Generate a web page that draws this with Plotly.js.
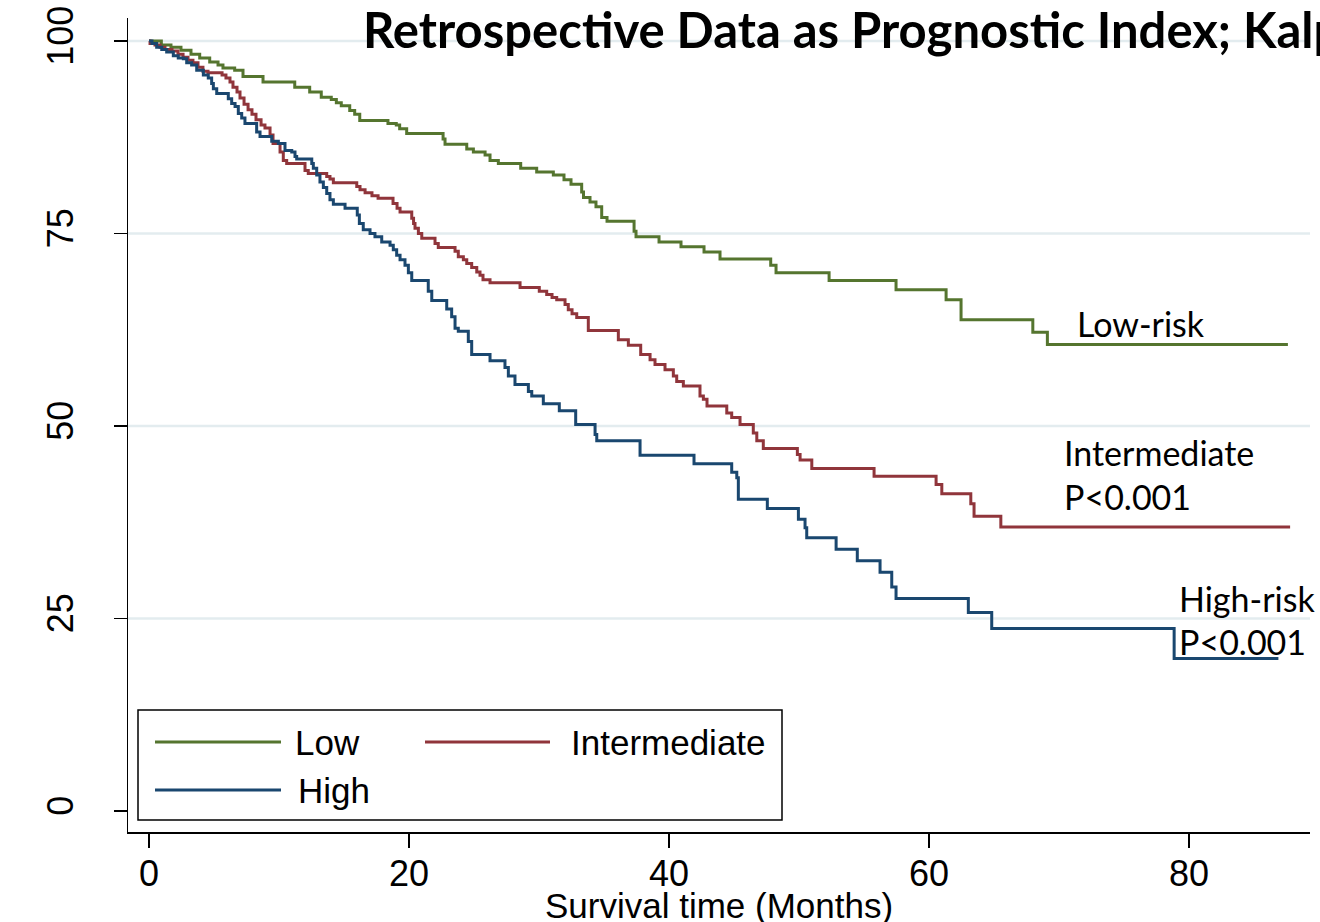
<!DOCTYPE html>
<html><head><meta charset="utf-8">
<script src="https://cdn.plot.ly/plotly-3.0.1.min.js"></script>
<style>html,body{margin:0;padding:0;background:#fff;overflow:hidden}#chart{width:1320px;height:922px}</style>
</head><body><div id="chart"></div>
<script>
// ---- Data (Kaplan-Meier step points: time in months, survival %) ----
const lowT = [0, 0.95, 1.69, 2.46, 3.23, 3.90, 4.67, 5.31, 5.69, 6.59, 7.23, 8.77, 11.21, 12.36, 13.25, 14.02, 14.41, 14.79, 15.44, 15.82, 16.21, 18.38, 19.02, 19.28, 19.82, 22.62, 22.77, 24.44, 24.95, 25.85, 26.23, 26.87, 28.59, 29.82, 31.10, 31.92, 32.46, 33.28, 33.42, 33.92, 34.38, 34.82, 35.23, 37.31, 37.46, 39.23, 40.92, 42.69, 43.92, 47.82, 48.23, 52.31, 57.46, 61.31, 62.46, 67.98, 69.10, 87.60];
const lowS = [100, 99.5, 99.2, 98.8, 98.3, 97.8, 97.3, 96.9, 96.5, 96.2, 95.4, 94.7, 94.0, 93.4, 92.7, 92.4, 92.0, 91.6, 91.0, 90.5, 89.7, 89.3, 89.1, 88.6, 88.0, 87.3, 86.6, 86.0, 85.6, 85.2, 84.5, 84.1, 83.5, 83.0, 82.6, 82.0, 81.4, 80.4, 79.7, 79.1, 78.5, 77.1, 76.6, 75.3, 74.6, 73.9, 73.3, 72.6, 71.7, 70.9, 69.9, 68.9, 67.7, 66.4, 63.8, 62.2, 60.6, 60.6];

const intT = [0, 0.08, 0.46, 0.85, 1.23, 1.77, 2.23, 2.62, 3.00, 3.38,
  3.77, 4.15, 4.54, 5.62, 5.92, 6.23, 6.46, 6.77, 7.00, 7.31,
  7.62, 7.92, 8.23, 8.62, 8.92, 9.31, 9.54, 10.08, 10.33, 10.59,
  12.00, 12.25, 13.67, 13.92, 14.18, 15.98, 16.23, 16.62, 17.15, 17.62,
  18.77, 19.08, 19.31, 20.21, 20.35, 20.46, 20.72, 20.98, 22.00, 22.25,
  23.54, 23.79, 24.18, 24.44, 24.82, 25.21, 25.46, 25.69, 26.23, 28.54,
  30.02, 30.59, 31.00, 31.36, 32.00, 32.25, 32.54, 32.90, 33.79, 36.10,
  36.87, 37.82, 38.54, 38.92, 39.69, 40.33, 40.59, 41.10, 42.38, 42.64,
  42.92, 44.44, 44.82, 45.46, 46.48, 46.75, 47.25, 49.87, 50.08, 50.98,
  55.77, 60.54, 60.98, 63.21, 63.46, 65.52, 87.77];
const intS = [100, 99.7, 99.5, 99.2, 98.9, 98.7, 98.3, 97.9, 97.5, 97.2,
  96.6, 96.1, 95.9, 95.6, 95.2, 94.7, 94.0, 93.4, 92.6, 91.8,
  91.1, 90.5, 89.8, 89.1, 88.7, 87.8, 86.7, 85.6, 84.5, 84.1,
  83.2, 82.8, 82.4, 82.1, 81.6, 81.1, 80.7, 80.3, 79.9, 79.6,
  78.9, 78.3, 77.8, 77.0, 76.3, 75.7, 75.0, 74.4, 73.7, 73.2,
  72.7, 72.0, 71.6, 71.1, 70.6, 70.0, 69.6, 69.0, 68.6, 68.0,
  67.5, 67.1, 66.7, 66.4, 65.8, 65.1, 64.6, 64.1, 62.4, 61.2,
  60.5, 59.3, 58.6, 58.0, 57.3, 56.5, 55.8, 55.2, 53.9, 53.5,
  52.6, 51.7, 51.1, 50.2, 49.1, 48.1, 47.1, 46.3, 45.6, 44.5,
  43.5, 42.4, 41.2, 39.9, 38.3, 36.9, 36.9];

const highT = [0, 0.23, 0.59, 0.98, 1.36, 1.87, 2.25, 2.64, 2.90, 3.28,
  3.67, 4.18, 4.56, 4.82, 4.95, 5.21, 6.10, 6.36, 6.62, 6.87,
  7.13, 7.38, 8.28, 8.54, 9.44, 9.95, 10.46, 10.98, 11.23, 11.36,
  12.52, 12.64, 12.90, 13.15, 13.41, 13.67, 13.92, 14.18, 15.08, 16.02,
  16.18, 16.48, 17.00, 17.38, 17.90, 18.54, 18.79, 19.05, 19.31, 19.69,
  19.95, 20.21, 21.48, 21.75, 22.90, 23.28, 23.54, 23.79, 24.56, 24.82,
  26.23, 27.38, 27.64, 28.15, 29.18, 29.44, 30.33, 31.56, 32.82, 34.31,
  34.44, 37.77, 41.92, 44.82, 45.21, 45.33, 47.56, 49.95, 50.46, 50.59,
  52.85, 54.48, 56.23, 57.13, 57.46, 63.02, 64.82, 78.85, 86.87];
const highS = [100, 99.7, 99.2, 98.9, 98.6, 98.1, 97.8, 97.7, 97.2, 96.9,
  96.2, 95.6, 95.2, 94.5, 93.8, 93.2, 92.5, 91.9, 91.5, 90.6,
  90.0, 89.3, 88.2, 87.6, 87.0, 86.7, 85.8, 85.6, 85.0, 84.7,
  84.1, 83.5, 82.6, 81.7, 81.0, 80.2, 79.4, 78.8, 78.3, 77.4,
  76.3, 75.5, 75.0, 74.6, 73.9, 73.5, 72.9, 72.2, 71.6, 70.9,
  69.9, 68.9, 67.5, 66.3, 65.2, 64.2, 62.7, 62.3, 61.0, 59.3,
  58.5, 57.6, 56.5, 55.4, 54.5, 53.9, 52.9, 52.0, 50.2, 48.9,
  48.1, 46.2, 45.1, 44.0, 43.3, 40.5, 39.3, 37.9, 36.8, 35.5,
  34.0, 32.5, 31.0, 29.1, 27.6, 25.8, 23.7, 19.8, 19.8];

const seriesNames = ['Low', 'Intermediate', 'High'];
const xTickVals = [0, 20, 40, 60, 80];
const yTickVals = [0, 25, 50, 75, 100];
const gridVals = [25, 50, 75, 100];
const titleText = 'Retrospective Data as Prognostic Index; Kalpan-Meier survival estimates';
const xTitleText = 'Survival time (Months)';

// ---- Styling ----
const colors = {Low: '#55752f', Intermediate: '#90353b', High: '#1a476f'};
const sans = "'Liberation Sans', Arial, Helvetica, sans-serif";
const calib = "Lato, 'Open Sans', sans-serif";

const seriesData = {Low: [lowT, lowS], Intermediate: [intT, intS], High: [highT, highS]};
const traces = seriesNames.map(n => ({
  type: 'scatter', mode: 'lines', name: n,
  x: seriesData[n][0], y: seriesData[n][1],
  line: {shape: 'hv', color: colors[n], width: 3},
  showlegend: false, hoverinfo: 'skip'
}));

const shapes = gridVals.map(v => ({
  type: 'line', xref: 'paper', yref: 'y', x0: 0, x1: 1, y0: v, y1: v,
  line: {color: '#e3ecef', width: 2.5}, layer: 'below'
}));

// Legend drawn as a framed key (paper coordinates)
const W = 1182, H = 814, L = 128, B = 832;
const px = v => (v - L) / W, py = v => (B - v) / H;
shapes.push({type: 'rect', xref: 'paper', yref: 'paper', x0: px(138), x1: px(782), y0: py(820), y1: py(710),
  line: {color: '#000', width: 1.5}, fillcolor: 'rgba(255,255,255,0)'});
const legendItems = [
  {n: 'Low', lx0: 155, lx1: 281, tx: 294, y: 742},
  {n: 'Intermediate', lx0: 425, lx1: 550, tx: 570, y: 742},
  {n: 'High', lx0: 155, lx1: 281, tx: 297, y: 790}
];
const annotations = [];
legendItems.forEach(it => {
  shapes.push({type: 'line', xref: 'paper', yref: 'paper', x0: px(it.lx0), x1: px(it.lx1), y0: py(it.y), y1: py(it.y),
    line: {color: colors[it.n], width: 3}});
  annotations.push({xref: 'paper', yref: 'paper', x: px(it.tx), y: py(it.y), xanchor: 'left', yanchor: 'middle',
    text: it.n, showarrow: false, font: {family: sans, size: 35, color: '#000'}, borderpad: 0});
});

// x-axis title (placed below tick labels)
annotations.push({xref: 'paper', yref: 'paper', x: 0.5, y: py(905), xanchor: 'center', yanchor: 'middle',
  text: xTitleText, showarrow: false, font: {family: sans, size: 35, color: '#000'}, borderpad: 0});

// Curve labels
const lab = (text, x, y) => ({xref: 'x', yref: 'y', x, y, xanchor: 'left', yanchor: 'middle', text,
  showarrow: false, font: {family: calib, size: 34, color: '#000'}, borderpad: 0});
annotations.push(lab('Low-risk', 71.3, 63.3));
annotations.push(lab('Intermediate', 70.3, 46.6));
annotations.push(lab('P&lt;0.001', 70.3, 40.8));
annotations.push(lab('High-risk', 79.15, 27.6));
annotations.push(lab('P&lt;0.001', 79.15, 22.0));

const layout = {
  width: 1320, height: 922,
  paper_bgcolor: '#fff', plot_bgcolor: '#fff',
  margin: {l: 128, r: 10, t: 18, b: 90},
  title: {text: titleText, font: {family: calib, size: 49, weight: 700, color: '#000'},
    x: 363 / 1320, xref: 'container', xanchor: 'left', y: 1 - 31 / 922, yref: 'container', yanchor: 'middle'},
  xaxis: {
    range: [-1.615, 89.3], tickvals: xTickVals, ticktext: xTickVals.map(String),
    ticks: 'outside', ticklen: 14, tickwidth: 1.5, tickcolor: '#000',
    showline: true, linecolor: '#000', linewidth: 1.5, showgrid: false, zeroline: false,
    tickfont: {family: sans, size: 36, color: '#000'}, ticklabelstandoff: -5, ticklabeloverflow: 'allow'
  },
  yaxis: {
    range: [-2.72, 103.0], tickvals: yTickVals, ticktext: yTickVals.map(String),
    ticks: 'outside', ticklen: 13, tickwidth: 1.5, tickcolor: '#000', tickangle: -90,
    showline: true, linecolor: '#000', linewidth: 1.5, showgrid: false, zeroline: false,
    tickfont: {family: sans, size: 36, color: '#000'}, ticklabelstandoff: 26, ticklabeloverflow: 'allow'
  },
  shapes, annotations, showlegend: false
};

Plotly.newPlot('chart', traces, layout, {displayModeBar: false, staticPlot: true});
</script>
</body></html>
